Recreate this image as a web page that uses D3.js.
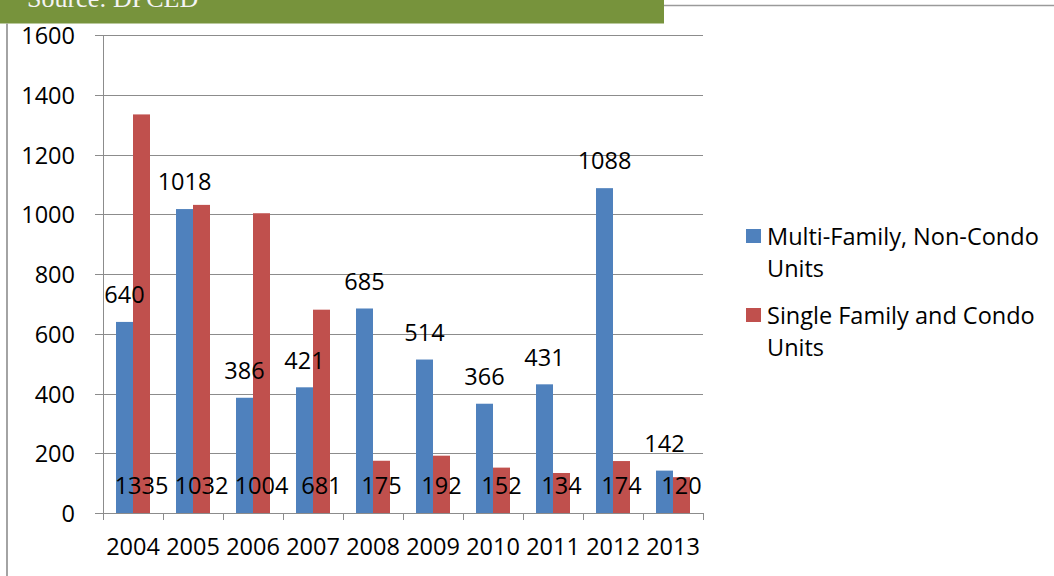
<!DOCTYPE html>
<html><head><meta charset="utf-8">
<script src="https://cdn.jsdelivr.net/npm/d3@7"></script>
<style>
html,body{margin:0;padding:0;background:#fff;}
svg{display:block;}
text{font-family:"Open Sans",sans-serif;fill:#000;}
</style></head>
<body>
<svg id="chart" width="1054" height="576"></svg>
<script>
const years = ["2004","2005","2006","2007","2008","2009","2010","2011","2012","2013"];
const multiFamily = [640,1018,386,421,685,514,366,431,1088,142];
const singleFamily = [1335,1032,1004,681,175,192,152,134,174,120];
const yTicks = [0,200,400,600,800,1000,1200,1400,1600];
const seriesNames = ["Multi-Family, Non-Condo|Units","Single Family and Condo|Units"];
const seriesColors = ["#4F81BD","#C0504D"];
const sourceText = "Source: DPCED";

(function(){
const svg = d3.select("#chart");
const W = 1054, H = 576;
const pLeft = 103, pRight = 703, pTop = 35.3, pBottom = 513;
const fs = "23.5px";

// frame
svg.append("rect").attr("x",0).attr("y",0).attr("width",664).attr("height",23.5).attr("fill","#77933C");
svg.append("text").attr("x",27).attr("y",7).text(sourceText)
  .style("font-family","'Liberation Serif','Times New Roman',serif").style("font-size","26px").style("fill","#f4f4f4");
svg.append("line").attr("x1",664).attr("x2",W).attr("y1",5.5).attr("y2",5.5).attr("stroke","#9a9a9a").attr("stroke-width",1.5);
svg.append("line").attr("x1",7).attr("x2",7).attr("y1",23.5).attr("y2",H).attr("stroke","#9a9a9a").attr("stroke-width",1.8);

const y = d3.scaleLinear().domain([0,1600]).range([pBottom, pTop]);
const x = d3.scaleBand().domain(years).range([pLeft, pRight]).padding(0);

// gridlines
const grid = d3.axisLeft(y).tickValues(yTicks).tickSize(-(pRight-pLeft)).tickFormat("");
svg.append("g").attr("transform",`translate(${pLeft},0)`).call(grid)
  .call(g=>{g.select(".domain").remove(); g.selectAll("line").attr("stroke","#8c8c8c").attr("shape-rendering","crispEdges");});

// y axis
const yAxis = d3.axisLeft(y).tickValues(yTicks).tickFormat(d3.format("d")).tickSize(8).tickSizeOuter(0).tickPadding(20);
svg.append("g").attr("transform",`translate(${pLeft},0)`).call(yAxis)
  .call(g=>{
    g.select(".domain").attr("stroke","#8c8c8c").attr("shape-rendering","crispEdges");
    g.selectAll("line").attr("stroke","#8c8c8c").attr("shape-rendering","crispEdges");
    g.selectAll("text").style("font-size",fs).style("font-family","'Open Sans',sans-serif").attr("fill","#000").attr("dy","0.36em");
  });

// bars
const bw = 17;
const gBars = svg.append("g");
gBars.selectAll("rect.mf").data(years).join("rect")
  .attr("x",d=>x(d)+x.bandwidth()/2 - bw)
  .attr("y",(d,i)=>y(multiFamily[i]))
  .attr("width",bw).attr("height",(d,i)=>y(0)-y(multiFamily[i]))
  .attr("fill",seriesColors[0]);
gBars.selectAll("rect.sf").data(years).join("rect")
  .attr("x",d=>x(d)+x.bandwidth()/2)
  .attr("y",(d,i)=>y(singleFamily[i]))
  .attr("width",bw).attr("height",(d,i)=>y(0)-y(singleFamily[i]))
  .attr("fill",seriesColors[1]);

// x axis
const xAxis = d3.axisBottom(x).tickSize(0).tickSizeOuter(0).tickPadding(0);
svg.append("g").attr("transform",`translate(0,${pBottom})`).call(xAxis)
  .call(g=>{
    g.select(".domain").attr("stroke","#8c8c8c").attr("shape-rendering","crispEdges");
    g.selectAll("text").style("font-size",fs).style("font-family","'Open Sans',sans-serif").attr("fill","#000")
      .attr("y",42).attr("dy",null);
  });
// category boundary ticks
const bounds = years.map(d=>x(d)).concat([x(years[years.length-1])+x.bandwidth()]);
svg.append("g").selectAll("line").data(bounds).join("line")
  .attr("x1",d=>Math.round(d)+0.5).attr("x2",d=>Math.round(d)+0.5).attr("y1",pBottom).attr("y2",pBottom+7)
  .attr("stroke","#8c8c8c");

// data labels
const gl = svg.append("g").style("font-size",fs);
gl.selectAll("text.mf").data(years).join("text")
  .attr("x",d=>x(d)+x.bandwidth()/2 - bw/2)
  .attr("y",(d,i)=>y(multiFamily[i]) - 18.7)
  .attr("text-anchor","middle").text((d,i)=>multiFamily[i]);
gl.selectAll("text.sf").data(years).join("text")
  .attr("x",d=>x(d)+x.bandwidth()/2 + bw/2)
  .attr("y",493.5)
  .attr("text-anchor","middle").text((d,i)=>singleFamily[i]);

// legend
const lg = svg.append("g");
const legY = [229, 308];
seriesNames.forEach((name,i)=>{
  lg.append("rect").attr("x",746).attr("y",legY[i]).attr("width",15).attr("height",14).attr("fill",seriesColors[i]);
  const lines = name.split("|");
  lines.forEach((ln,j)=>{
    lg.append("text").attr("x",767).attr("y",legY[i]+16+j*32).text(ln).style("font-size",fs);
  });
});
})();
</script>
</body></html>
